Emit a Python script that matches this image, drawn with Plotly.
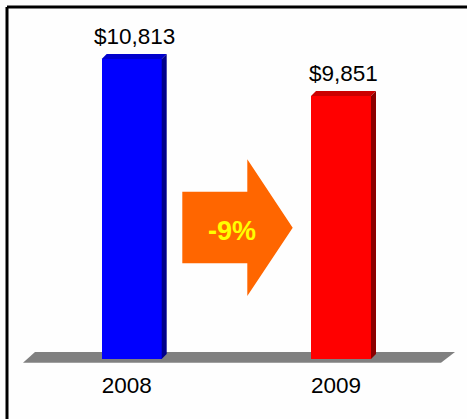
import plotly.graph_objects as go

# ---- data ----
years = ["2008", "2009"]
values = [10813, 9851]
value_labels = ["$10,813", "$9,851"]
change_label = "-9%"

# ---- styling / geometry constants ----
W_FIG, H_FIG = 467, 419
MARGIN_B = 50
PLOT_H = H_FIG - MARGIN_B
AXIS_MIN = 3000              # value axis baseline
BASE_PIX = 359               # pixel row of the baseline
PX_PER_UNIT = 0.0384         # pixels per value unit
PX_PER_CAT = 209.3           # pixels between categories
X0_PIX = 131.7               # pixel column of first category
BAR_W_PIX = 60
DEPTH_PIX = 5
FONT = "Liberation Sans, Arial"

front_colors = ["#0000FF", "#FF0000"]
top_colors = ["#0000CC", "#CC0000"]
side_colors = ["#00008B", "#8B0000"]

x_range = [-X0_PIX / PX_PER_CAT, (W_FIG - X0_PIX) / PX_PER_CAT]
y_range = [AXIS_MIN - (PLOT_H - BASE_PIX) / PX_PER_UNIT, AXIS_MIN + BASE_PIX / PX_PER_UNIT]


def px2x(px):
    return x_range[0] + px / PX_PER_CAT


def px2y(py):
    return y_range[1] - py / PX_PER_UNIT


def dxu(px):
    return px / PX_PER_CAT


def dyu(px):
    return px / PX_PER_UNIT


xs = list(range(len(years)))
bw = BAR_W_PIX / PX_PER_CAT

fig = go.Figure()

# front faces
fig.add_trace(go.Bar(
    x=xs, y=[v - AXIS_MIN for v in values], base=AXIS_MIN, width=bw,
    marker=dict(color=front_colors, line=dict(width=0)),
    hoverinfo="skip", showlegend=False,
))

# top and side faces (3D effect)
for i, v in enumerate(values):
    xl, xr = xs[i] - bw / 2, xs[i] + bw / 2
    ddx, ddy = dxu(DEPTH_PIX), dyu(DEPTH_PIX)
    fig.add_trace(go.Scatter(
        x=[xl, xr, xr + ddx, xl + ddx, xl], y=[v, v, v + ddy, v + ddy, v],
        fill="toself", fillcolor=top_colors[i], mode="lines", line=dict(width=0),
        hoverinfo="skip", showlegend=False,
    ))
    fig.add_trace(go.Scatter(
        x=[xr, xr, xr + ddx, xr + ddx, xr], y=[AXIS_MIN, v, v + ddy, AXIS_MIN + ddy, AXIS_MIN],
        fill="toself", fillcolor=side_colors[i], mode="lines", line=dict(width=0),
        hoverinfo="skip", showlegend=False,
    ))
    fig.add_annotation(
        x=xs[i] + ddx / 2, y=v, yref="y", xref="x", text=value_labels[i],
        showarrow=False, yanchor="bottom", yshift=DEPTH_PIX + 3,
        font=dict(family=FONT, size=22.5, color="black"),
    )

# floor
floor_pts = [(35, 352), (455, 352), (441, 362.7), (23, 362.7)]
path = "M " + " L ".join(f"{px2x(a)},{px2y(b)}" for a, b in floor_pts) + " Z"
fig.add_shape(type="path", path=path, xref="x", yref="y", fillcolor="#808080",
              line=dict(width=0), layer="below")

# arrow
arrow_pts = [(182.3, 191.7), (247.3, 191.7), (247.3, 159.3), (292.7, 227.7),
             (247.3, 296), (247.3, 263.3), (182.3, 263.3)]
path = "M " + " L ".join(f"{px2x(a)},{px2y(b)}" for a, b in arrow_pts) + " Z"
fig.add_shape(type="path", path=path, xref="x", yref="y", fillcolor="#FF6600",
              line=dict(width=0), layer="above")
fig.add_annotation(x=px2x(232), y=px2y(231), xref="x", yref="y", text=f"<b>{change_label}</b>",
                   showarrow=False,
                   font=dict(family=FONT, size=27, color="#FFFF00"))


# frame lines (top and left)
def pxp(px):
    return px / W_FIG


def pyp(py):
    return (PLOT_H - py) / PLOT_H


fig.add_shape(type="line", xref="paper", yref="paper", x0=pxp(7), y0=pyp(7), x1=pxp(470), y1=pyp(7),
              line=dict(color="black", width=3))
fig.add_shape(type="line", xref="paper", yref="paper", x0=pxp(7), y0=pyp(7), x1=pxp(7), y1=pyp(422),
              line=dict(color="black", width=3))

fig.update_layout(
    width=W_FIG, height=H_FIG,
    margin=dict(l=0, r=0, t=0, b=MARGIN_B),
    paper_bgcolor="#FEFEFE", plot_bgcolor="#FEFEFE",
    bargap=0, showlegend=False,
    xaxis=dict(range=x_range, tickvals=xs, ticktext=years, showgrid=False, zeroline=False,
               showline=False, ticks="", ticklabelstandoff=0, ticklabelshift=-5,
               tickfont=dict(family=FONT, size=22.5, color="black"),
               fixedrange=True),
    yaxis=dict(range=y_range, visible=False, showgrid=False, zeroline=False, fixedrange=True),
)

fig.write_html("out.html", config={"displayModeBar": False},
               post_script="document.body.style.margin='0';document.body.style.overflow='hidden';")
